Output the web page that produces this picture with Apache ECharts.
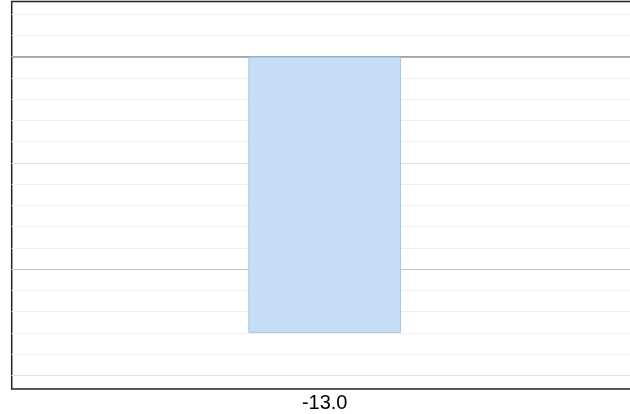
<!DOCTYPE html>
<html>
<head>
<meta charset="utf-8">
<script src="https://cdn.jsdelivr.net/npm/echarts@6/dist/echarts.min.js"></script>
<style>html,body{margin:0;padding:0;background:#fff;overflow:hidden}#c{width:630px;height:414px}</style>
</head>
<body>
<div id="c"></div>
<script>
const categories = ['-13.0'];
const values = [-13];
const yMin = -15.64;
const yMax = 2.6;
const gridSteps = [1, 5, 10, 20];
const gridColors = ['#efefef', '#e2e2e2', '#c6c6c6', '#999999'];

const chart = echarts.init(document.getElementById('c'), null, {renderer: 'canvas'});
const yAxes = gridSteps.map((s, i) => ({
  type: 'value', min: yMin, max: yMax, minInterval: s, maxInterval: s,
  splitNumber: Math.round((yMax - yMin) / s),
  axisLine: {show: false}, axisTick: {show: false}, axisLabel: {show: false},
  splitLine: {show: true, showMinLine: false, showMaxLine: false, lineStyle: {color: gridColors[i], width: i === 3 ? 1.5 : 1}}
}));
chart.setOption({
  animation: false,
  grid: {left: 11.7, top: 1.5, height: 387.5, width: 626, outerBoundsMode: 'none', containLabel: false,
         show: true, borderColor: '#222', borderWidth: 1.5, backgroundColor: 'transparent'},
  xAxis: {
    type: 'category', data: categories,
    axisLine: {show: false}, axisTick: {show: false}, splitLine: {show: false},
    axisLabel: {fontSize: 20, color: '#000', fontFamily: 'Liberation Sans', margin: 4}
  },
  yAxis: yAxes,
  series: [{
    type: 'bar', data: values, yAxisIndex: 0, barWidth: '24.4%',
    itemStyle: {color: '#c5ddf5', borderColor: '#a9c6e4', borderWidth: 1}
  }]
});
</script>
</body>
</html>
